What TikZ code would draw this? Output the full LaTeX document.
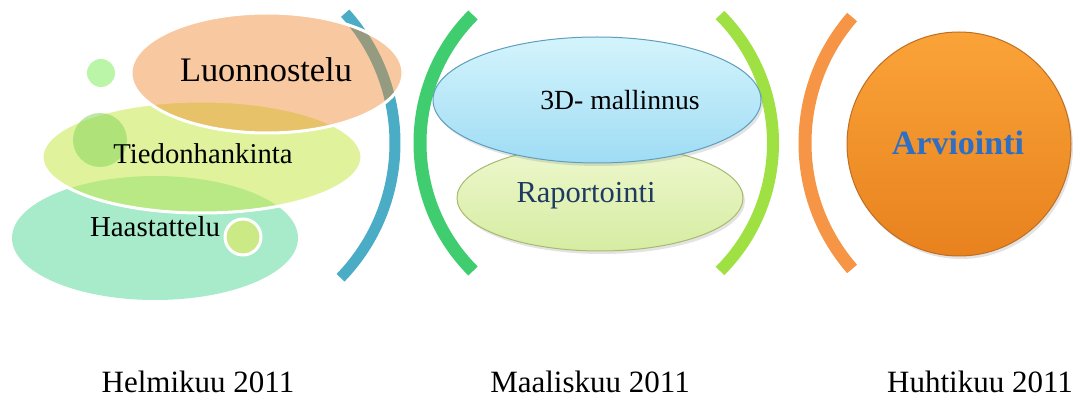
\documentclass[tikz,border=0pt]{standalone}
\usepackage{fontspec}
\setmainfont{Liberation Serif}
\usetikzlibrary{shapes.geometric,shadows}
\definecolor{cLuon}{HTML}{F0872C}
\definecolor{cTied}{HTML}{C7E94B}
\definecolor{cHaas}{HTML}{A8EBCB}
\definecolor{cDotA}{HTML}{BAF5A8}
\definecolor{cDotB}{HTML}{86D45A}
\definecolor{cDotC}{HTML}{CBE985}
\definecolor{cBlue}{HTML}{4BACC6}
\definecolor{cGreen}{HTML}{3FCD6F}
\definecolor{cLime}{HTML}{9FE043}
\definecolor{cOrArc}{HTML}{F59545}
\definecolor{cSkyT}{HTML}{D4F4FC}
\definecolor{cSkyB}{HTML}{9FDCF4}
\definecolor{cSkyD}{HTML}{5C9FBE}
\definecolor{cPaleT}{HTML}{EEF8CE}
\definecolor{cPaleB}{HTML}{D6ECA2}
\definecolor{cPaleD}{HTML}{A9B96E}
\definecolor{cOrT}{HTML}{FAA338}
\definecolor{cOrB}{HTML}{E8821E}
\definecolor{cOrD}{HTML}{BF6E22}
\definecolor{cNavy}{HTML}{1F3A60}
\definecolor{cArv}{HTML}{2E6FC4}
\begin{document}
\begin{tikzpicture}[x=1pt,y=1pt,
  blob/.style={ellipse,inner sep=0pt,draw=white,line width=3pt},
  dot/.style={circle,inner sep=0pt},
  bracket/.style={line width=12pt,line cap=butt},
  lbl/.style={anchor=base,inner sep=0pt,font=\fontsize{31}{36}\selectfont},
  txt/.style={anchor=base,inner sep=0pt},
  soft/.style={drop shadow={opacity=0.22,shadow xshift=2pt,shadow yshift=-3pt}}]
\useasboundingbox (0,0) rectangle (1074,-398);
% left group
\node[blob,fill=cHaas,draw=none,minimum width=286,minimum height=124] (haas) at (155,-238) {};
\node[blob,fill=cTied,fill opacity=0.55,minimum width=320,minimum height=112] (tied) at (202,-157) {};
\node[dot,fill=cDotB,fill opacity=0.55,minimum size=54] (dotb) at (100,-140) {};
\node[dot,fill=cDotA,minimum size=28] (dota) at (101,-73) {};
\node[dot,fill=cDotC,draw=white,line width=3pt,minimum size=36] (dotc) at (243,-237) {};
\coordinate (cb) at (201,-143);
\draw[bracket,line width=11pt,cBlue] ([shift={(42:194)}]cb) arc[start angle=42,end angle=-44,radius=194];
\node[blob,fill=cLuon,fill opacity=0.45,minimum width=272,minimum height=120] (luon) at (267,-73) {};
\node[txt,font=\fontsize{34.4}{40}\selectfont] (tluon) at (266,-82) {Luonnostelu};
\node[txt,font=\fontsize{28.7}{34}\selectfont] (ttied) at (203,-164) {Tiedonhankinta};
\node[txt,font=\fontsize{28.9}{34}\selectfont] (thaas) at (155,-237) {Haastattelu};
% middle group
\coordinate (cg) at (601,-143);
\draw[bracket,line width=13pt,cGreen] ([shift={(135:181)}]cg) arc[start angle=135,end angle=225,radius=181];
\coordinate (cl) at (592,-143);
\draw[bracket,cLime] ([shift={(45:181)}]cl) arc[start angle=45,end angle=-45,radius=181];
\node[ellipse,inner sep=0pt,soft,draw=cPaleD,line width=1pt,top color=cPaleT,bottom color=cPaleB,minimum width=286,minimum height=106] (rap) at (600,-198) {};
\node[ellipse,inner sep=0pt,soft,draw=cSkyD,line width=1pt,top color=cSkyT,bottom color=cSkyB,minimum width=328,minimum height=126] (mal) at (597,-100) {};
\node[txt,font=\fontsize{27.7}{33}\selectfont] (tmal) at (620,-110) {3D- mallinnus};
\node[txt,text=cNavy,font=\fontsize{30.5}{36}\selectfont] (trap) at (586,-203) {Raportointi};
% right group
\coordinate (co) at (997,-143);
\draw[bracket,line width=13pt,cOrArc] ([shift={(139:192)}]co) arc[start angle=139,end angle=221,radius=192];
\node[circle,inner sep=0pt,soft,draw=cOrD,line width=1pt,top color=cOrT,bottom color=cOrB,minimum size=224] (arv) at (959,-144) {};
\node[txt,text=cArv,font=\fontsize{34}{40}\selectfont\bfseries] (tarv) at (958,-155) {Arviointi};
% month labels
\node[lbl] (m1) at (198,-392) {Helmikuu 2011};
\node[lbl] (m2) at (590,-392) {Maaliskuu 2011};
\node[lbl] (m3) at (980,-392) {Huhtikuu 2011};
\end{tikzpicture}
\end{document}
